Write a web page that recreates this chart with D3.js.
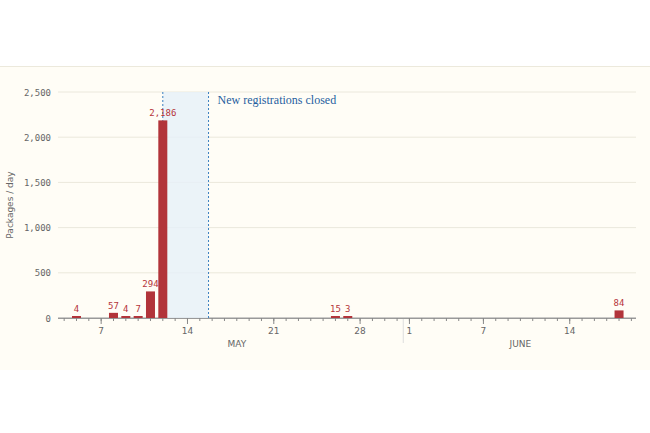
<!DOCTYPE html>
<html><head><meta charset="utf-8">
<script src="https://cdn.jsdelivr.net/npm/d3@7"></script>
<style>body{margin:0;background:#fff}</style></head>
<body><svg id="c" width="650" height="433"></svg>
<script>
const dates = ["2024-05-05","2024-05-08","2024-05-09","2024-05-10","2024-05-11","2024-05-12","2024-05-26","2024-05-27","2024-06-18"];
const values = [4,57,4,7,294,2186,15,3,84];
const yTicks = [0,500,1000,1500,2000,2500];
const xTickDays = ["2024-05-07","2024-05-14","2024-05-21","2024-05-28","2024-06-01","2024-06-07","2024-06-14"];
const xTickLabels = ["7","14","21","28","1","7","14"];
const months = [{name:"MAY",date:"2024-05-18"},{name:"JUNE",date:"2024-06-10"}];
const closedStart = "2024-05-12T00:00", closedEnd = "2024-05-15T17:00";
const annotation = "New registrations closed";

const P = d=>new Date(d.length>10?d:d+"T00:00");
const svg = d3.select("#c");
svg.append("rect").attr("x",0).attr("y",66).attr("width",650).attr("height",304).attr("fill","#fffdf6");
svg.append("line").attr("x1",0).attr("x2",650).attr("y1",66.5).attr("y2",66.5).attr("stroke","#ece9dc");
const x = d3.scaleTime().domain([new Date(2024,4,3,12),new Date(2024,5,19,9)]).range([58,636]);
const y = d3.scaleLinear().domain([0,2500]).range([318,92]);
const g = svg.append("g");
yTicks.forEach(t=>{
  g.append("line").attr("x1",58).attr("x2",636).attr("y1",y(t)).attr("y2",y(t)).attr("stroke",t? "#ebe8dc":"#999").attr("stroke-width",t?1:1.2);
  g.append("text").attr("x",51).attr("y",y(t)+3.5).attr("text-anchor","end").attr("font-family","DejaVu Sans Mono").attr("font-size",9).attr("fill","#666").text(d3.format(",")(t));
});
g.append("text").attr("transform",`translate(13,${y(1250)}) rotate(-90)`).attr("text-anchor","middle").attr("font-family","DejaVu Sans").attr("font-size",9).attr("fill","#666").text("Packages / day");
// shaded
g.append("rect").attr("x",x(P(closedStart))).attr("y",y(2500)).attr("width",x(P(closedEnd))-x(P(closedStart))).attr("height",y(0)-y(2500)).attr("fill","#e6f0f9").attr("opacity",0.8);
[closedStart,closedEnd].forEach(d=>g.append("line").attr("x1",x(P(d))).attr("x2",x(P(d))).attr("y1",y(2500)).attr("y2",y(0)).attr("stroke","#3a7fc0").attr("stroke-dasharray","2,2"));
g.append("text").attr("x",x(P(closedEnd))+9).attr("y",104).attr("font-family","Liberation Serif").attr("font-size",12).attr("fill","#1f5fa0").text(annotation);
// bars
const bw=9;
dates.forEach((d,i)=>{
  const cx = x(P(d));
  g.append("rect").attr("x",cx-bw/2).attr("y",Math.min(y(values[i]),y(0)-2)).attr("width",bw).attr("height",Math.max(y(0)-y(values[i]),2)).attr("fill","#b2343a");
  g.append("text").attr("x",cx).attr("y",Math.min(y(values[i]),y(0)-2)-4).attr("text-anchor","middle").attr("font-family","DejaVu Sans Mono").attr("font-size",9).attr("fill","#b5343a").text(d3.format(",")(values[i]));
});
// x axis
g.append("line").attr("x1",58).attr("x2",636).attr("y1",318.5).attr("y2",318.5).attr("stroke","#999");
d3.timeDay.range(new Date(2024,4,4),new Date(2024,5,20)).forEach(d=>{
  g.append("line").attr("x1",x(d)).attr("x2",x(d)).attr("y1",318).attr("y2",321).attr("stroke","#888");
});
xTickDays.forEach((d,i)=>{
  g.append("line").attr("x1",x(P(d))).attr("x2",x(P(d))).attr("y1",318).attr("y2",324).attr("stroke","#888");
  g.append("text").attr("x",x(P(d))).attr("y",334).attr("text-anchor","middle").attr("font-family","DejaVu Sans").attr("font-size",9).attr("fill","#666").text(xTickLabels[i]);
});
const sep = (x(P("2024-05-31"))+x(P("2024-06-01")))/2;
g.append("line").attr("x1",sep).attr("x2",sep).attr("y1",319).attr("y2",343).attr("stroke","#ddd");
months.forEach(m=>g.append("text").attr("x",x(P(m.date))).attr("y",347).attr("text-anchor","middle").attr("font-family","DejaVu Sans").attr("font-size",9).attr("fill","#666").text(m.name));
</script></body></html>
